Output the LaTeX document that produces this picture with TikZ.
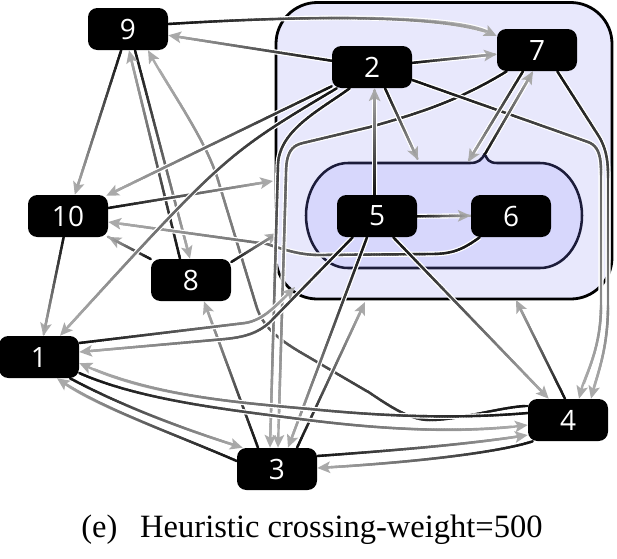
\documentclass[tikz,border=0pt]{standalone}
\usepackage{fontspec}
\setmainfont{Liberation Serif}
\newfontfamily\nodefnt{Open Sans}
\usetikzlibrary{arrows.meta,calc,decorations.markings}
\pgfdeclarelayer{bg}
\pgfdeclarelayer{edges}
\pgfsetlayers{bg,edges,main}
\definecolor{outerc}{RGB}{232,232,252}
\definecolor{innerc}{RGB}{215,215,252}
\definecolor{innerb}{RGB}{28,28,58}
\definecolor{arrowc}{RGB}{170,170,170}
\tikzset{
  vtx/.style={rectangle, rounded corners=7pt, fill=black, text=white,
    minimum width=60pt, minimum height=31.5pt, inner sep=0pt,
    font=\nodefnt\fontsize{21}{21}\selectfont},
  gradseg/.style={postaction={decorate,decoration={markings,
      mark=between positions 0 and 0.96 step 2pt with {
        \pgfmathsetmacro{\gfrac}{\pgfkeysvalueof{/pgf/decoration/mark info/distance from start}/\pgfdecoratedpathlength}
        \pgfmathsetmacro{\gpct}{max(30,min(93,93-62*\gfrac))}
        \draw[-,line width=1.8pt,line cap=round,draw=black!\gpct] (0pt,0pt) -- (2.3pt,0pt);
      }}}},
  lnk/.style={line width=1.8pt, draw=arrowc, -{Stealth[length=9.5pt,width=8.5pt,inset=2pt]},
    preaction={draw=white,line width=3.8pt,-,shorten >=6pt}, gradseg}
}
\begin{document}
\begin{tikzpicture}[x=0.75pt,y=-0.75pt]
\useasboundingbox (0,0) rectangle (617,558);
\begin{pgfonlayer}{bg}
\fill[white] (0,0) rectangle (617,558);
\draw[fill=outerc, line width=2.1pt, rounded corners=31pt] (276,2.5) rectangle (612,299);
\draw[fill=innerc, draw=innerb, line width=1.9pt]
  (348,163) -- (470,163) .. controls (478,163) and (482,160) .. (485,153)
  .. controls (486,159) and (489,163) .. (497,163) -- (540,163)
  .. controls (563.2,163) and (582,186.5) .. (582,215.5)
  .. controls (582,244.5) and (563.2,268) .. (540,268)
  -- (348,268)
  .. controls (324.8,268) and (306,244.5) .. (306,215.5)
  .. controls (306,186.5) and (324.8,163) .. (348,163) -- cycle;
\end{pgfonlayer}

\node[vtx] (n9) at (128,29) {9};
\node[vtx] (n2) at (372,67) {2};
\node[vtx] (n7) at (537,50) {7};
\node[vtx] (n10) at (68,216) {10};
\node[vtx] (n5) at (377,216) {5};
\node[vtx] (n6) at (511,216) {6};
\node[vtx] (n8) at (191,280) {8};
\node[vtx] (n1) at (39,357) {1};
\node[vtx] (n4) at (568,420) {4};
\node[vtx] (n3) at (277,469) {3};

\coordinate (c7) at (273,181);
\coordinate (c12) at (278,233);
\coordinate (c18) at (418,160);
\coordinate (c22) at (468,162);
\coordinate (cn) at (485,154);
\coordinate (c26) at (295,287);
\coordinate (c28) at (365,302);
\coordinate (c30) at (516,300);
\coordinate (p6a) at ($(n4.west)+(0,-14)$);
\coordinate (p6b) at ($(n9.south)+(20,0)$);

\begin{pgfonlayer}{edges}
\draw[lnk] ($(n9.east)+(0,-5)$) .. controls (330,14) and (455,16) .. ($(n7.west)+(0,-14)$);
\draw[lnk] (n2) -- (n9);
\draw[lnk] (n9) -- (n10);
\draw[lnk] ($(n9.south)+(7,0)$) -- ($(n8.north)+(-1,0)$);
\draw[lnk] ($(n8.north)+(-11,0)$) -- ($(n9.south)+(1,0)$);
\draw[lnk] (p6a) .. controls (505,406) and (460,420) .. (430,420) .. controls (412,420) and (395,410) .. (370,393) -- (300,352) .. controls (275,337) and (262,325) .. (256,305) -- (218,180) .. controls (206,140) and (170,90) .. (p6b);
\draw[lnk] ($(n10.east)+(0,-8)$) -- (c7);
\draw[lnk] ($(n2.south west)+(0,-2)$) -- ($(n10.north east)+(-2,1)$);
\draw[lnk] ($(n6.south west)+(9,0)$) .. controls (462,250) and (452,254) .. (430,254) -- (320,255) .. controls (300,255) and (285,250) .. (267,244) -- ($(n10.east)+(0,6)$);
\draw[lnk] (n8) -- (n10);
\draw[lnk] (n10) -- (n1);
\draw[lnk] ($(n8.east)+(0,-18)$) -- (c12);
\draw[lnk] ($(n3.north)+(-19,0)$) -- ($(n8.south)+(13,0)$);
\draw[lnk] (n2) -- (n7);
\draw[lnk] ($(n2.south west)+(5,0)$) .. controls (225,155) .. ($(n1.north)+(21,0)$);
\draw[lnk] ($(n2.south west)+(18,0)$) .. controls (320,110) and (279,130) .. (278,165) -- ($(n3.north)+(-7,0)$);
\draw[lnk] ($(n7.south west)+(10,0)$) .. controls (460,100) and (420,113) .. (370,127) -- (303,143) .. controls (290,146) and (286,155) .. (286,175) -- ($(n3.north)+(1,0)$);
\draw[lnk] ($(n2.south)+(13,0)$) -- (c18);
\draw[lnk] ($(n5.north)+(-2.4,0)$) -- ($(n2.south)+(2.6,0)$);
\draw[lnk] ($(n2.east)+(0,13)$) -- (588,142) .. controls (598,146) and (601,155) .. (601,172) -- (601,305) .. controls (601,350) and (585,375) .. ($(n4.north)+(11,0)$);
\draw[lnk] ($(n7.south east)+(-20,0)$) -- (598,135) .. controls (605,146) and (608,158) .. (608,175) -- (608,305) .. controls (608,350) and (597,375) .. ($(n4.north)+(23,0)$);
\draw[lnk] ($(n7.south)+(-14,0)$) -- (c22);
\draw[lnk] (cn) -- ($(n7.south)+(-4,0)$);
\draw[lnk] ($(n5.east)+(0,0.3)$) -- ($(n6.west)+(0,-0.3)$);
\draw[lnk] ($(n5.south west)+(16,0)$) -- (270,322) .. controls (258,333) and (245,337) .. (225,339) -- ($(n1.east)+(0,-5)$);
\draw[lnk] ($(n1.east)+(0,-14)$) -- (245,323) .. controls (262,320) and (272,310) .. (c26);
\draw[lnk] ($(n5.south)+(-10,0)$) -- ($(n3.north)+(11,0)$);
\draw[lnk] ($(n3.north)+(20,0)$) -- (c28);
\draw[lnk] ($(n5.south east)+(-24,0)$) -- ($(n4.north west)+(21,0)$);
\draw[lnk] ($(n4.north)+(-3,0)$) -- (c30);
\draw[lnk] ($(n1.east)+(0,16)$) .. controls (140,400) and (230,410) .. (300,419) .. controls (400,432) and (470,432) .. ($(n4.west)+(0,5)$);
\draw[lnk] ($(n4.west)+(0,-7)$) .. controls (470,418) and (400,418) .. (310,409) .. controls (230,402) and (150,395) .. ($(n1.east)+(0,6)$);
\draw[lnk] ($(n1.south)+(31,0)$) .. controls (120,405) and (180,428) .. ($(n3.north west)+(6,0)$);
\draw[lnk] ($(n3.west)+(0,-8)$) .. controls (170,432) and (100,408) .. ($(n1.south)+(18,0)$);
\draw[lnk] ($(n3.east)+(0,-13)$) .. controls (400,450) and (470,444) .. ($(n4.west)+(0,15)$);
\draw[lnk] ($(n4.south west)+(5,0)$) .. controls (500,452) and (420,462) .. ($(n3.east)+(0,-1)$);
\end{pgfonlayer}

\node[anchor=base, font=\fontsize{24.4}{24.4}\selectfont] (cap) at (312,537) {(e)\hspace{0.7em}Heuristic crossing-weight=500};
\end{tikzpicture}
\end{document}
